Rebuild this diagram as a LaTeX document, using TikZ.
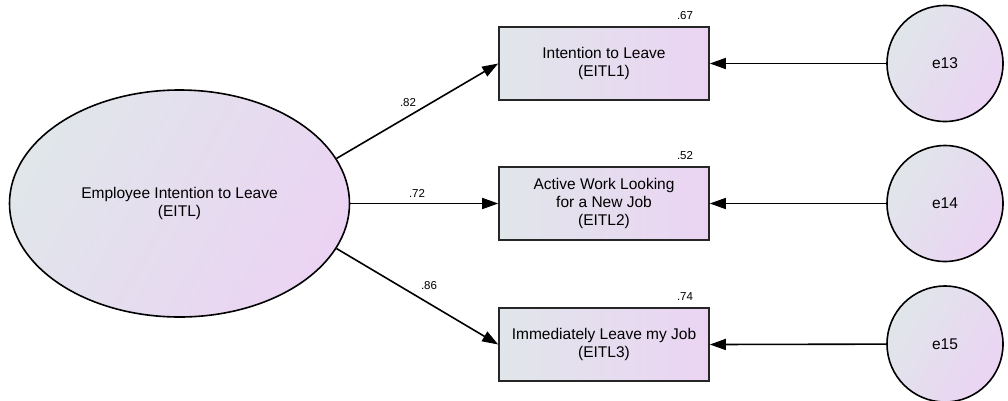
\documentclass[tikz,border=0pt]{standalone}
\usepackage{fontspec}
\setmainfont{Liberation Sans}
\usetikzlibrary{arrows.meta,shapes.geometric}
\definecolor{shadeL}{HTML}{E0E6EA}
\definecolor{shadeR}{HTML}{EBD4F3}
\tikzset{
  x=1pt, y=-1pt,
  latent/.style={ellipse, draw=black, line width=1.6pt, shading=axis,
    left color=shadeL, right color=shadeR, shading angle=60,
    minimum width=340pt, minimum height=227pt, inner sep=0pt,
    font=\fontsize{15.5}{18}\selectfont, align=center},
  indicator/.style={rectangle, draw=black!85, line width=1.6pt,
    left color=shadeL, right color=shadeR,
    minimum width=210pt, minimum height=73pt, inner sep=0pt,
    font=\fontsize{15.5}{18}\selectfont, align=center},
  errterm/.style={circle, draw=black, line width=1.6pt, shading=axis,
    left color=shadeL, right color=shadeR, shading angle=60,
    minimum size=116pt, inner sep=0pt,
    font=\fontsize{15.5}{18}\selectfont},
  path/.style={line width=1.6pt, -{Triangle[length=16pt,width=11pt]}},
  coef/.style={font=\fontsize{11.5}{13}\selectfont, inner sep=0pt}
}
\begin{document}
\begin{tikzpicture}
\useasboundingbox (0,0) rectangle (1008,400);

% latent factor
\node[latent] (eitl) at (179.5,203.5) {Employee Intention to Leave\\(EITL)};

% observed indicators
\node[indicator] (x1) at (604,63.5) {Intention to Leave\\(EITL1)};
\node[indicator] (x2) at (604,203.5) {Active Work Looking\\for a New Job\\(EITL2)};
\node[indicator] (x3) at (604,344.5) {Immediately Leave my Job\\(EITL3)};

% error terms
\node[errterm] (e13) at (945,63.5) {e13};
\node[errterm] (e14) at (945,203.5) {e14};
\node[errterm] (e15) at (945,344) {e15};

% squared multiple correlations
\node[coef] (r1) at (685,16) {.67};
\node[coef] (r2) at (685,156) {.52};
\node[coef] (r3) at (685,297) {.74};

% factor loadings
\node[coef] (l1) at (408,103) {.82};
\node[coef] (l2) at (417,193) {.72};
\node[coef] (l3) at (429,286) {.86};
\draw[path] (eitl.16) -- (x1.west);
\draw[path] (eitl.east) -- (x2.west);
\draw[path] (eitl.-16) -- (x3.west);

% error paths
\draw[path] (e13) -- (x1.east);
\draw[path] (e14) -- (x2.east);
\draw[path] (e15) -- (x3.east);
\end{tikzpicture}
\end{document}
